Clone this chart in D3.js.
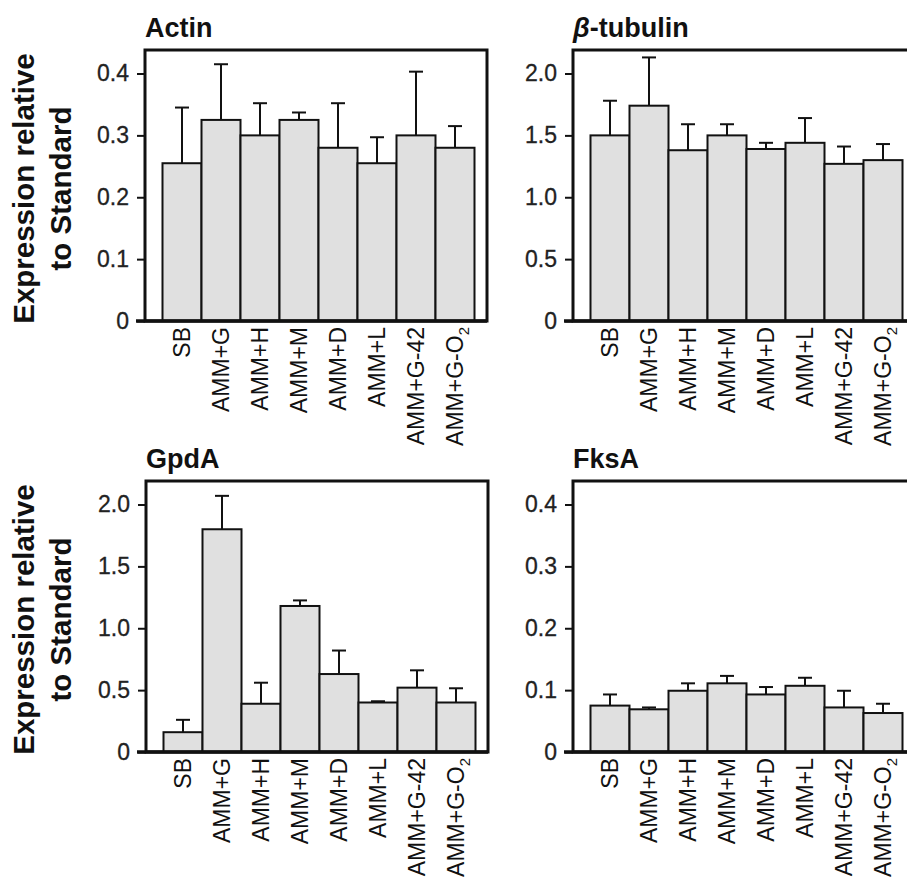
<!DOCTYPE html>
<html>
<head>
<meta charset="utf-8">
<script src="https://cdn.jsdelivr.net/npm/d3@7"></script>
<style>
  body { margin: 0; background: #fff; }
  svg { display: block; font-family: Arial, 'Liberation Sans', sans-serif; }
</style>
</head>
<body>
<div id="chart"></div>
<script>
// conditions on the x axis
const categories = ['SB', 'AMM+G', 'AMM+H', 'AMM+M', 'AMM+D', 'AMM+L', 'AMM+G-42', 'AMM+G-O2'];

// mean expression and error (upper SD) per gene
const actinMean = [0.255, 0.325, 0.300, 0.325, 0.280, 0.255, 0.300, 0.280];
const actinErr = [0.090, 0.090, 0.052, 0.012, 0.072, 0.042, 0.103, 0.035];

const tubulinMean = [1.50, 1.74, 1.38, 1.50, 1.39, 1.44, 1.27, 1.30];
const tubulinErr = [0.28, 0.39, 0.21, 0.09, 0.05, 0.20, 0.14, 0.13];

const gpdaMean = [0.16, 1.80, 0.39, 1.18, 0.63, 0.40, 0.52, 0.40];
const gpdaErr = [0.10, 0.27, 0.17, 0.045, 0.19, 0.01, 0.14, 0.115];

const fksMean = [0.075, 0.069, 0.099, 0.111, 0.093, 0.107, 0.072, 0.063];
const fksErr = [0.018, 0.003, 0.012, 0.012, 0.012, 0.013, 0.027, 0.015];

// tick values and labels
const smallTicks = [0, 0.1, 0.2, 0.3, 0.4];
const smallTickLabels = ['0', '0.1', '0.2', '0.3', '0.4'];
const bigTicks = [0, 0.5, 1.0, 1.5, 2.0];
const bigTickLabels = ['0', '0.5', '1.0', '1.5', '2.0'];

const width = 907, height = 884;
const svg = d3.select('#chart').append('svg')
  .attr('width', width)
  .attr('height', height);

const panelW = 342, panelH = 271;

const panels = [
  {title: 'Actin', x: 145, y: 50, mean: actinMean, err: actinErr, max: 0.438, ticks: smallTicks, labels: smallTickLabels},
  {title: 'β-tubulin', x: 573, y: 50, mean: tubulinMean, err: tubulinErr, max: 2.19, ticks: bigTicks, labels: bigTickLabels},
  {title: 'GpdA', x: 146, y: 481, mean: gpdaMean, err: gpdaErr, max: 2.19, ticks: bigTicks, labels: bigTickLabels},
  {title: 'FksA', x: 573, y: 481, mean: fksMean, err: fksErr, max: 0.438, ticks: smallTicks, labels: smallTickLabels}
];

panels.forEach(p => {
  let g = svg.append('g').attr('transform', `translate(${p.x},${p.y})`);

  let x = d3.scaleBand()
    .domain(categories)
    .range([17.5, panelW - 12.5])
    .padding(0);

  let y = d3.scaleLinear()
    .domain([0, p.max])
    .range([panelH, 0]);

  // title
  let t = g.append('text')
    .attr('x', 0)
    .attr('y', -13)
    .attr('font-size', 27)
    .attr('font-weight', 'bold')
    .attr('fill', '#111');
  if (p.title.startsWith('β')) {
    t.append('tspan').attr('font-style', 'italic').text('β');
    t.append('tspan').text(p.title.slice(1));
  } else {
    t.text(p.title);
  }

  // bars
  g.append('g').selectAll('rect')
    .data(p.mean)
    .enter()
    .append('rect')
    .attr('x', (d, i) => x(categories[i]))
    .attr('y', d => y(d))
    .attr('width', x.bandwidth())
    .attr('height', d => panelH - y(d))
    .attr('fill', '#e0e0e0')
    .attr('stroke', '#111')
    .attr('stroke-width', 2);

  // error bars
  let eb = g.append('g').attr('stroke', '#111').attr('stroke-width', 2);
  p.mean.forEach((m, i) => {
    let cx = x(categories[i]) + x.bandwidth() / 2;
    eb.append('line')
      .attr('x1', cx).attr('x2', cx)
      .attr('y1', y(m)).attr('y2', y(m + p.err[i]));
    eb.append('line')
      .attr('x1', cx - 7).attr('x2', cx + 7)
      .attr('y1', y(m + p.err[i])).attr('y2', y(m + p.err[i]));
  });

  // y axis
  let yaxis = g.append('g')
    .call(d3.axisLeft(y)
      .tickValues(p.ticks)
      .tickFormat((d, i) => p.labels[i])
      .tickSize(8)
      .tickPadding(8));
  yaxis.select('.domain').remove();
  yaxis.selectAll('line').attr('stroke', '#111').attr('stroke-width', 2);
  yaxis.selectAll('text')
    .attr('font-size', 23)
    .attr('fill', '#222')
    .attr('stroke', '#222')
    .attr('stroke-width', 0.3)
    .attr('font-family', "Arial, 'Liberation Sans', sans-serif");

  // frame
  g.append('rect')
    .attr('x', 0).attr('y', 0)
    .attr('width', panelW).attr('height', panelH)
    .attr('fill', 'none')
    .attr('stroke', '#111')
    .attr('stroke-width', 3);
  g.append('line')
    .attr('x1', -9).attr('x2', panelW)
    .attr('y1', panelH).attr('y2', panelH)
    .attr('stroke', '#111')
    .attr('stroke-width', 3.5);

  // x labels
  let xl = g.append('g');
  categories.forEach(c => {
    let cx = x(c) + x.bandwidth() / 2;
    let lt = xl.append('text')
      .attr('transform', `translate(${cx},${panelH + 6}) rotate(-90)`)
      .attr('text-anchor', 'end')
      .attr('dy', '0.36em')
      .attr('font-size', 23)
      .attr('fill', '#111');
    if (c.endsWith('O2')) {
      lt.append('tspan').text(c.slice(0, -1));
      lt.append('tspan')
        .attr('font-size', 15)
        .attr('dy', '0.35em')
        .text('2');
    } else {
      lt.text(c);
    }
  });
});

// y axis titles on the left column
[50, 481].forEach(top => {
  let cy = top + panelH / 2 + 3;
  svg.append('text')
    .attr('transform', `translate(34,${cy}) rotate(-90)`)
    .attr('text-anchor', 'middle')
    .attr('font-size', 29.5)
    .attr('font-weight', 'bold')
    .attr('fill', '#111')
    .text('Expression relative');
  svg.append('text')
    .attr('transform', `translate(71,${cy}) rotate(-90)`)
    .attr('text-anchor', 'middle')
    .attr('font-size', 29.5)
    .attr('font-weight', 'bold')
    .attr('fill', '#111')
    .text('to Standard');
});
</script>
</body>
</html>
